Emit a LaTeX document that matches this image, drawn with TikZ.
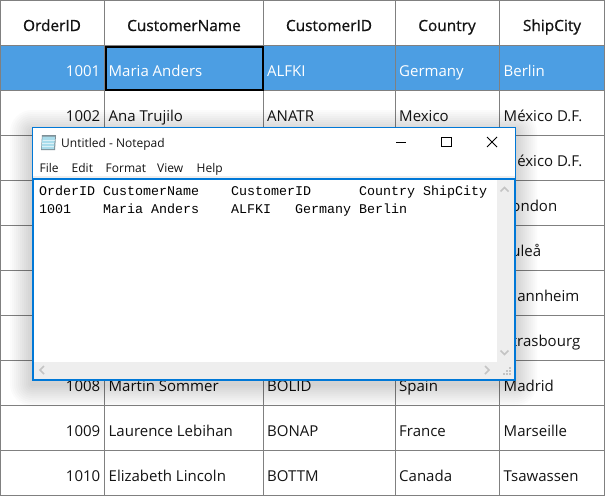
\documentclass[tikz,border=0pt]{standalone}
\usepackage{fontspec}
\setmainfont{Open Sans}
\newfontfamily\headfont[FakeBold=0.8]{Open Sans}
\newfontfamily\padfont{Liberation Mono}
\definecolor{gridline}{HTML}{808080}
\definecolor{rowblue}{HTML}{4C9EE3}
\definecolor{padblue}{HTML}{0078D7}
\definecolor{barfill}{HTML}{EEEEEE}
\definecolor{inktext}{HTML}{141414}
\definecolor{chevron}{HTML}{C4C4C4}
\definecolor{iconblue}{HTML}{A9DCEB}
\definecolor{iconedge}{HTML}{7F8F96}
\begin{document}
\begin{tikzpicture}[x=1pt,y=-1pt]
\tikzstyle{every node}+=[inner sep=0pt,text=inktext,font=\fontsize{15}{18}\selectfont]
\tikzstyle{headcell}=[anchor=base,font=\headfont\fontsize{15.4}{18}\selectfont]
\tikzstyle{numcell}=[anchor=base east]
\tikzstyle{txtcell}=[anchor=base west]
\tikzstyle{selcell}=[txtcell,text=white]
\tikzstyle{padtext}=[anchor=base west,font=\fontsize{12}{14}\selectfont]
\tikzstyle{padmono}=[anchor=base west,text=black,font=\padfont\fontsize{13.33}{16}\selectfont]
\tikzstyle{padctl}=[black,line width=1pt]
\tikzstyle{padchev}=[chevron,line width=1.5pt]
\useasboundingbox (0,0) rectangle (605,496);
\fill [white] (0,0) rectangle (605,496);
\fill [rowblue] (0,45) rectangle (605,90);
% grid
\draw [gridline] (0,0.5) -- (605,0.5);
\draw [gridline] (0,45.5) -- (605,45.5);
\draw [gridline] (0,90.5) -- (605,90.5);
\draw [gridline] (0,135.5) -- (605,135.5);
\draw [gridline] (0,180.5) -- (605,180.5);
\draw [gridline] (0,225.5) -- (605,225.5);
\draw [gridline] (0,270.5) -- (605,270.5);
\draw [gridline] (0,315.5) -- (605,315.5);
\draw [gridline] (0,360.5) -- (605,360.5);
\draw [gridline] (0,405.5) -- (605,405.5);
\draw [gridline] (0,450.5) -- (605,450.5);
\draw [gridline] (0,495.5) -- (605,495.5);
\draw [gridline] (0.5,0) -- (0.5,496);
\draw [gridline] (104.5,0) -- (104.5,496);
\draw [gridline] (263.5,0) -- (263.5,496);
\draw [gridline] (395.5,0) -- (395.5,496);
\draw [gridline] (499.5,0) -- (499.5,496);
\draw [gridline] (604.5,0) -- (604.5,496);
\draw [black,line width=2pt] (106,47) rectangle (263,90);
% header
\node [headcell] (hid) at (52,31) {OrderID};
\node [headcell] (hname) at (184,31) {CustomerName};
\node [headcell] (hcust) at (329,31) {CustomerID};
\node [headcell] (hcountry) at (447,31) {Country};
\node [headcell] (hcity) at (552,31) {ShipCity};
% rows
\node [numcell,text=white] (id1) at (100.5,76) {1001};
\node [selcell] (name1) at (108.5,76) {Maria Anders};
\node [selcell] (cust1) at (267,76) {ALFKI};
\node [selcell] (country1) at (399,76) {Germany};
\node [selcell] (city1) at (503.5,76) {Berlin};
\node [numcell] (id2) at (100.5,121) {1002};
\node [txtcell] (name2) at (108.5,121) {Ana Trujilo};
\node [txtcell] (cust2) at (267,121) {ANATR};
\node [txtcell] (country2) at (399,121) {Mexico};
\node [txtcell] (city2) at (503.5,121) {México D.F.};
\node [txtcell] (city3) at (503.5,166) {México D.F.};
\node [txtcell] (city4) at (503.5,211) {London};
\node [txtcell] (city5) at (503.5,256) {Luleå};
\node [txtcell] (city6) at (503.5,301) {Mannheim};
\node [txtcell] (city7) at (503.5,346) {Strasbourg};
\node [numcell] (id8) at (100.5,391) {1008};
\node [txtcell] (name8) at (108.5,391) {Martin Sommer};
\node [txtcell] (cust8) at (267,391) {BOLID};
\node [txtcell] (country8) at (399,391) {Spain};
\node [txtcell] (city8) at (503.5,391) {Madrid};
\node [numcell] (id9) at (100.5,436) {1009};
\node [txtcell] (name9) at (108.5,436) {Laurence Lebihan};
\node [txtcell] (cust9) at (267,436) {BONAP};
\node [txtcell] (country9) at (399,436) {France};
\node [txtcell] (city9) at (503.5,436) {Marseille};
\node [numcell] (id10) at (100.5,481) {1010};
\node [txtcell] (name10) at (108.5,481) {Elizabeth Lincoln};
\node [txtcell] (cust10) at (267,481) {BOTTM};
\node [txtcell] (country10) at (399,481) {Canada};
\node [txtcell] (city10) at (503.5,481) {Tsawassen};
% notepad window
\foreach \r in {22,20,...,2}
  \fill [black,opacity=0.016,rounded corners=\r pt] (32-\r,127-\r+5) rectangle (515+\r,380+\r+4);
\fill [white] (32,127) rectangle (515,380);
\draw [padblue] (32,127.5) -- (515.5,127.5) -- (515.5,178);
\draw [padblue] (32.5,127) -- (32.5,178);
\fill [barfill] (33,176) rectangle (515,178);
\draw [padblue,line width=2pt] (33,179) rectangle (515,380);
\fill [barfill] (497,180) rectangle (514,379);
\fill [barfill] (34,362) rectangle (514,379);
% icon
\fill [iconedge] (42,135) -- (56,135) -- (55,150) -- (41,150) -- cycle;
\fill [iconblue] (42.5,136.5) -- (55,136.5) -- (54,149) -- (41.5,149) -- cycle;
\draw [white,opacity=0.6] (42.5,140) -- (54.5,140);
\draw [white,opacity=0.6] (42.3,143) -- (54.3,143);
\draw [white,opacity=0.6] (42,146) -- (54,146);
\node [padtext] (ttl) at (61,147.5) {Untitled - Notepad};
\draw [padctl] (396,142.5) -- (406,142.5);
\draw [padctl] (441.5,137.5) rectangle (451.5,146.5);
\draw [padctl] (487,137) -- (497,147);
\draw [padctl] (497,137) -- (487,147);
\node [padtext] (mfile) at (39.5,172) {File};
\node [padtext] (medit) at (71.5,172) {Edit};
\node [padtext] (mformat) at (105.5,172) {Format};
\node [padtext] (mview) at (157,172) {View};
\node [padtext] (mhelp) at (196.5,172) {Help};
\node [padmono] (line1) at (39,195) {OrderID CustomerName~~~~CustomerID~~~~~~Country ShipCity};
\node [padmono] (line2) at (39,213) {1001~~~~Maria Anders~~~~ALFKI~~~Germany Berlin};
% scroll marks
\draw [padchev] (500.5,191.5) -- (504.5,187.5) -- (508.5,191.5);
\draw [padchev] (500.5,350.5) -- (504.5,354.5) -- (508.5,350.5);
\draw [padchev] (44,366) -- (40,370) -- (44,374);
\draw [padchev] (485,366) -- (489,370) -- (485,374);
\fill [chevron] (509,367) rectangle (510.5,368.5);
\fill [chevron] (506,370) rectangle (507.5,371.5);
\fill [chevron] (509,370) rectangle (510.5,371.5);
\fill [chevron] (503,373) rectangle (504.5,374.5);
\fill [chevron] (506,373) rectangle (507.5,374.5);
\fill [chevron] (509,373) rectangle (510.5,374.5);
\end{tikzpicture}
\end{document}
